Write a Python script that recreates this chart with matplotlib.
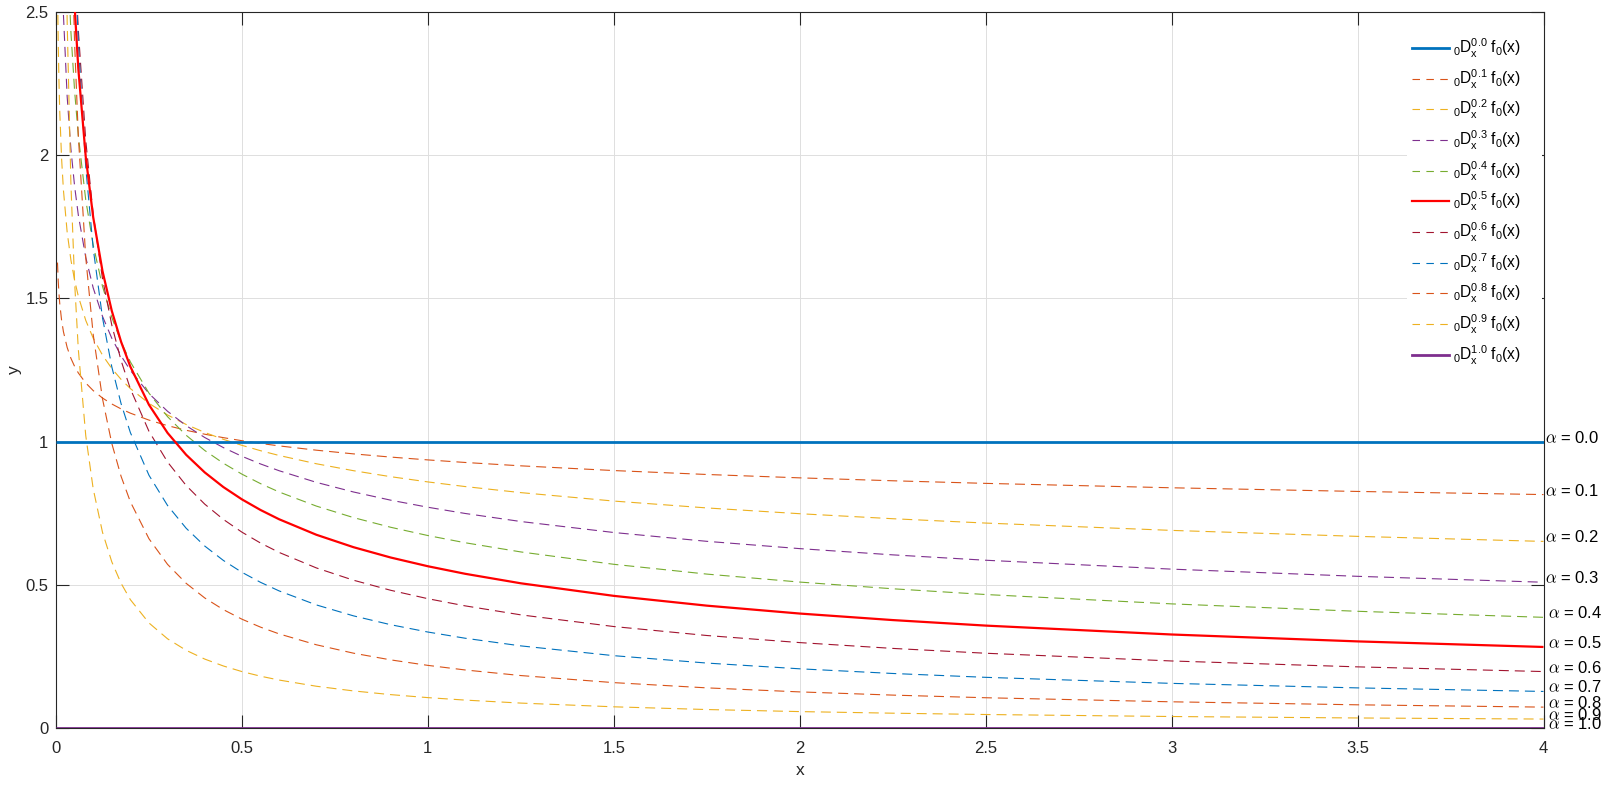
import numpy as np
import matplotlib
matplotlib.use("Agg")
import matplotlib.pyplot as plt
from matplotlib.lines import Line2D

# ---------------- data ----------------
alphas = [0.0, 0.1, 0.2, 0.3, 0.4, 0.5, 0.6, 0.7, 0.8, 0.9, 1.0]

x_flat = [0.0, 4.0]
y_a00 = [1.0, 1.0]
y_a10 = [0.0, 0.0]

x_grid = [0.004, 0.006, 0.008, 0.01, 0.015, 0.02, 0.03, 0.04, 0.05, 0.06,
          0.08, 0.1, 0.125, 0.15, 0.175, 0.2, 0.25, 0.3, 0.35, 0.4,
          0.45, 0.5, 0.55, 0.6, 0.7, 0.8, 0.9, 1.0, 1.1, 1.25,
          1.5, 1.75, 2.0, 2.25, 2.5, 3.0, 3.5, 4.0]

y_a01 = [1.6254, 1.5608, 1.5166, 1.4831, 1.4242, 1.3838, 1.3288, 1.2911, 1.2626, 1.2398,
         1.2046, 1.1781, 1.1521, 1.1313, 1.1140, 1.0992, 1.0749, 1.0555, 1.0394, 1.0256,
         1.0136, 1.0029, 0.9934, 0.9848, 0.9698, 0.9569, 0.9457, 0.9358, 0.9269, 0.9151,
         0.8986, 0.8849, 0.8731, 0.8629, 0.8538, 0.8384, 0.8256, 0.8147]
y_a02 = [2.5915, 2.3896, 2.2560, 2.1576, 1.9895, 1.8782, 1.7320, 1.6351, 1.5637, 1.5078,
         1.4234, 1.3613, 1.3019, 1.2553, 1.2172, 1.1851, 1.1334, 1.0928, 1.0596, 1.0317,
         1.0077, 0.9867, 0.9680, 0.9513, 0.9224, 0.8981, 0.8772, 0.8589, 0.8427, 0.8215,
         0.7920, 0.7680, 0.7478, 0.7303, 0.7151, 0.6895, 0.6686, 0.6510]
y_a03 = [4.0373, 3.5749, 3.2793, 3.0670, 2.7157, 2.4911, 2.2058, 2.0234, 1.8924, 1.7917,
         1.6435, 1.5371, 1.4376, 1.3611, 1.2996, 1.2485, 1.1677, 1.1056, 1.0556, 1.0141,
         0.9789, 0.9484, 0.9217, 0.8980, 0.8574, 0.8237, 0.7951, 0.7704, 0.7487, 0.7205,
         0.6821, 0.6513, 0.6258, 0.6040, 0.5852, 0.5541, 0.5290, 0.5083]
y_a04 = [6.1127, 5.1975, 4.6325, 4.2370, 3.6026, 3.2110, 2.7303, 2.4335, 2.2256, 2.0691,
         1.8442, 1.6868, 1.5427, 1.4342, 1.3485, 1.2783, 1.1692, 1.0869, 1.0219, 0.9688,
         0.9242, 0.8860, 0.8529, 0.8237, 0.7745, 0.7342, 0.7004, 0.6715, 0.6464, 0.6142,
         0.5710, 0.5368, 0.5089, 0.4855, 0.4654, 0.4327, 0.4068, 0.3857]
y_a05 = [8.9206, 7.2836, 6.3078, 5.6419, 4.6066, 3.9894, 3.2574, 2.8209, 2.5231, 2.3033,
         1.9947, 1.7841, 1.5958, 1.4567, 1.3487, 1.2616, 1.1284, 1.0301, 0.9537, 0.8921,
         0.8410, 0.7979, 0.7608, 0.7284, 0.6743, 0.6308, 0.5947, 0.5642, 0.5379, 0.5046,
         0.4607, 0.4265, 0.3989, 0.3761, 0.3568, 0.3257, 0.3016, 0.2821]
y_a06 = [12.382, 9.7077, 8.1686, 7.1452, 5.6021, 4.7139, 3.6961, 3.1101, 2.7203, 2.4384,
         2.0518, 1.7948, 1.5698, 1.4072, 1.2829, 1.1841, 1.0357, 0.9284, 0.8464, 0.7812,
         0.7279, 0.6833, 0.6453, 0.6125, 0.5584, 0.5154, 0.4802, 0.4508, 0.4258, 0.3943,
         0.3535, 0.3222, 0.2974, 0.2771, 0.2602, 0.2332, 0.2126, 0.1962]
y_a07 = [15.947, 12.006, 9.8160, 8.3967, 6.3217, 5.1686, 3.8916, 3.1817, 2.7215, 2.3955,
         1.9585, 1.6753, 1.4330, 1.2613, 1.1323, 1.0313, 0.8822, 0.7765, 0.6970, 0.6348,
         0.5846, 0.5430, 0.5080, 0.4780, 0.4291, 0.3908, 0.3599, 0.3343, 0.3127, 0.2859,
         0.2517, 0.2259, 0.2058, 0.1895, 0.1760, 0.1549, 0.1391, 0.1267]
y_a08 = [18.050, 13.049, 10.366, 8.6720, 6.2695, 4.9806, 3.6010, 2.8607, 2.3929, 2.0682,
         1.6430, 1.3744, 1.1496, 0.9936, 0.8784, 0.7894, 0.6603, 0.5707, 0.5045, 0.4534,
         0.4126, 0.3792, 0.3514, 0.3278, 0.2898, 0.2604, 0.2370, 0.2178, 0.2018, 0.1822,
         0.1575, 0.1392, 0.1251, 0.1139, 0.1047, 0.0905, 0.0800, 0.0719]
y_a09 = [15.129, 10.503, 8.1073, 6.6324, 4.6044, 3.5541, 2.4675, 1.9047, 1.5580, 1.3223,
         1.0206, 0.8350, 0.6830, 0.5797, 0.5046, 0.4474, 0.3660, 0.3106, 0.2704, 0.2398,
         0.2157, 0.1961, 0.1800, 0.1665, 0.1449, 0.1285, 0.1156, 0.1051, 0.0965, 0.0860,
         0.0730, 0.0635, 0.0563, 0.0507, 0.0461, 0.0391, 0.0340, 0.0302]

xtick_vals = [0, 0.5, 1, 1.5, 2, 2.5, 3, 3.5, 4]
xtick_labels = ['0', '0.5', '1', '1.5', '2', '2.5', '3', '3.5', '4']
ytick_vals = [0, 0.5, 1, 1.5, 2, 2.5]
ytick_labels = ['0', '0.5', '1', '1.5', '2', '2.5']

# ---------------- style ----------------
plt.rcParams['font.family'] = ['Liberation Sans', 'DejaVu Sans']
plt.rcParams['mathtext.fontset'] = 'custom'
plt.rcParams['mathtext.rm'] = 'Liberation Sans'
plt.rcParams['mathtext.it'] = 'Liberation Sans:italic'
plt.rcParams['mathtext.bf'] = 'Liberation Sans:bold'
plt.rcParams['lines.scale_dashes'] = False

C_BLUE = '#0072BD'
C_ORANGE = '#D95319'
C_YELLOW = '#EDB120'
C_PURPLE = '#7E2F8E'
C_GREEN = '#77AC30'
C_DRED = '#A2142F'
C_RED = '#FF0000'
AX_COL = '#262626'

series = [
    (x_flat, y_a00, C_BLUE, 'solid'),
    (x_grid, y_a01, C_ORANGE, 'dash'),
    (x_grid, y_a02, C_YELLOW, 'dash'),
    (x_grid, y_a03, C_PURPLE, 'dash'),
    (x_grid, y_a04, C_GREEN, 'dash'),
    (x_grid, y_a05, C_RED, 'solid'),
    (x_grid, y_a06, C_DRED, 'dash'),
    (x_grid, y_a07, C_BLUE, 'dash'),
    (x_grid, y_a08, C_ORANGE, 'dash'),
    (x_grid, y_a09, C_YELLOW, 'dash'),
    (x_flat, y_a10, C_PURPLE, 'solid'),
]

W, H = 1613, 785
fig = plt.figure(figsize=(W / 100, H / 100), dpi=100)
L, R, T, B = 56, 1543.5, 12.3, 727.7
ax = fig.add_axes([L / W, 1 - B / H, (R - L) / W, (B - T) / H])

PLOT_DASH = (7.2, 4.3)
LEG_DASH = (5.4, 4.6)

handles = []
labels = []
for a, (xs, ys, col, kind) in zip(alphas, series):
    if kind == 'solid':
        lw = 2.0 if col != C_RED else 1.6
        ax.plot(xs, ys, color=col, lw=lw, solid_capstyle='butt',
                solid_joinstyle='round', zorder=3)
        h = Line2D([], [], color=col, lw=lw)
    else:
        ax.plot(xs, ys, color=col, lw=0.8, dashes=PLOT_DASH, zorder=2)
        h = Line2D([], [], color=col, lw=0.8, dashes=LEG_DASH)
    handles.append(h)
    labels.append(r'${}_{0}\mathrm{D}_{\mathrm{x}}^{%.1f}\ \mathrm{f}_{0}(\mathrm{x})$' % a)
    # end-of-curve label
    yend = ys[-1]
    dx = 1.5 if a < 0.35 else 4.0
    ax.annotate(r'$\alpha$ = %.1f' % a, xy=(4.0, yend), xytext=(dx, -1.0),
                textcoords='offset pixels', ha='left', va='baseline',
                fontsize=12, color='black', math_fontfamily='cm',
                annotation_clip=False)

ax.set_xlim(0, 4)
ax.set_ylim(0, 2.5)
ax.set_xticks(xtick_vals)
ax.set_xticklabels(xtick_labels)
ax.set_yticks(ytick_vals)
ax.set_yticklabels(ytick_labels)
ax.tick_params(direction='in', length=9.5, width=0.8, colors=AX_COL,
               top=True, right=True, labelsize=12)
ax.tick_params(axis='x', pad=9.5)
ax.tick_params(axis='y', pad=5.5)
ax.grid(True, color='#dedede', lw=0.7)
ax.set_axisbelow(True)
for sp in ax.spines.values():
    sp.set_color(AX_COL)
    sp.set_linewidth(0.8)

ax.set_xlabel('x', fontsize=12.5, color=AX_COL)
ax.set_ylabel('y', fontsize=12.5, color=AX_COL)
ax.xaxis.set_label_coords(0.5, -0.05)
ax.yaxis.set_label_coords(-0.023, 0.5)

leg_left, leg_right, leg_top = 1407, 1542, 32
leg = ax.legend(handles, labels, loc='upper left', mode='expand',
                bbox_to_anchor=(leg_left / W, 1 - 380 / H, (leg_right - leg_left) / W,
                                (380 - leg_top) / H),
                bbox_transform=fig.transFigure,
                frameon=True, fancybox=False, edgecolor='white', facecolor='white',
                framealpha=1, borderaxespad=0, borderpad=0.30, handlelength=2.42,
                handletextpad=0.22, labelspacing=0.48, fontsize=11.2)
leg.get_frame().set_linewidth(0)
leg.set_zorder(5)

fig.savefig('out.png', dpi=100)
